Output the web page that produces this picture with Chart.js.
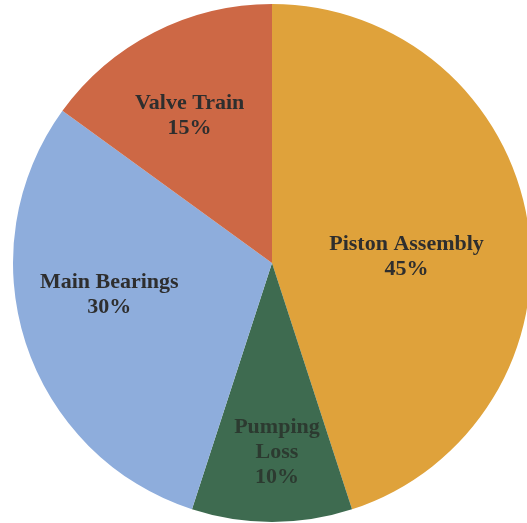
<!DOCTYPE html>
<html>
<head>
<meta charset="utf-8">
<script src="https://cdn.jsdelivr.net/npm/chart.js@4/dist/chart.umd.min.js"></script>
<style>
  html, body { margin: 0; padding: 0; background: #fff; overflow: hidden; }
  #wrap { position: absolute; left: 0; top: 0; width: 544px; height: 526px; }
</style>
</head>
<body>
<div id="wrap"><canvas id="FrictionPie"></canvas></div>
<script>
// friction share by component
var categories = ['Piston Assembly', 'Pumping Loss', 'Main Bearings', 'Valve Train'];
var labelLines = [['Piston Assembly'], ['Pumping', 'Loss'], ['Main Bearings'], ['Valve Train']];
var shares = [45, 10, 30, 15];

var sliceColors = ['#DFA23B', '#3E6B50', '#8EADDC', '#CD6845'];
// where each text block sits: fraction of radius, angle nudge in degrees
var labelPlace = [{ f: 0.52, da: 6.5 }, { f: 0.73, da: -1.5 }, { f: 0.64, da: 7 }, { f: 0.65, da: -2.3 }];

var sliceLabels = {
    id: 'sliceLabels',
    afterDatasetsDraw: function (chart) {
        var ctx = chart.ctx;
        var arcs = chart.getDatasetMeta(0).data;
        ctx.save();
        ctx.font = 'bold 22px "Liberation Serif", "DejaVu Serif", serif';
        ctx.textAlign = 'center';
        ctx.textBaseline = 'middle';
        arcs.forEach(function (arc, i) {
            var p = arc.getProps(['x', 'y', 'startAngle', 'endAngle', 'outerRadius'], true);
            var mid = (p.startAngle + p.endAngle) / 2 + labelPlace[i].da * Math.PI / 180;
            var r = p.outerRadius * labelPlace[i].f;
            var cx = p.x + Math.cos(mid) * r;
            var cy = p.y + Math.sin(mid) * r;
            var lines = labelLines[i].concat([shares[i] + '%']);
            var lh = 25;
            var y0 = cy - (lines.length - 1) * lh / 2;
            ctx.fillStyle = i === 1 ? '#2c3a30' : '#2e2e2e';
            lines.forEach(function (t, k) {
                ctx.fillText(t, cx, y0 + k * lh);
            });
        });
        ctx.restore();
    }
};

new Chart(document.getElementById('FrictionPie'), {
    type: 'pie',
    data: {
        labels: categories,
        datasets: [
            {
                data: shares,
                backgroundColor: sliceColors,
                borderWidth: 0
            }
        ]
    },
    options: {
        responsive: true,
        maintainAspectRatio: false,
        animation: false,
        layout: { padding: { top: 4, bottom: 4, left: 13, right: 13 } },
        plugins: {
            legend: { display: false },
            tooltip: { enabled: false }
        }
    },
    plugins: [sliceLabels]
});
</script>
</body>
</html>
